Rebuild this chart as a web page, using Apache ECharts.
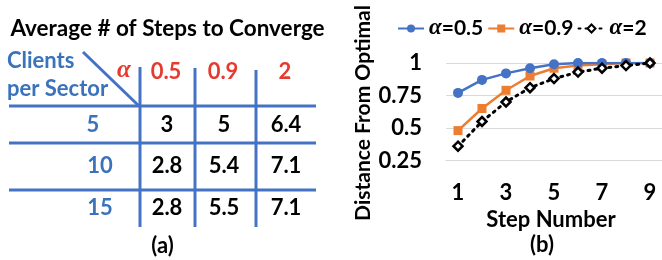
<!DOCTYPE html>
<html>
<head>
<meta charset="utf-8">
<script src="https://cdn.jsdelivr.net/npm/echarts@6/dist/echarts.min.js"></script>
<style>html,body{margin:0;padding:0;background:#fff}#c{width:662px;height:260px}</style>
</head>
<body>
<div id="c"></div>
<script>
// ---- data ----
const steps = ['1','2','3','4','5','6','7','8','9'];
const alpha05 = [0.77, 0.87, 0.92, 0.96, 0.99, 1.0, 1.0, 1.0, 1.0];
const alpha09 = [0.48, 0.65, 0.79, 0.90, 0.96, 0.98, 0.99, 1.0, 1.0];
const alpha2  = [0.36, 0.55, 0.70, 0.81, 0.88, 0.93, 0.96, 0.98, 1.0];
const seriesNames = ['α=0.5', 'α=0.9', 'α=2'];

const tableTitle = 'Average # of Steps to Converge';
const tableAlphas = ['0.5', '0.9', '2'];
const tableClients = ['5', '10', '15'];
const tableRow5  = ['3', '5', '6.4'];
const tableRow10 = ['2.8', '5.4', '7.1'];
const tableRow15 = ['2.8', '5.5', '7.1'];

// ---- layout / style ----
const FONT = 'Lato, "Open Sans", sans-serif';
const FS = 22;
const BLUE = '#4472C4';
const TBLUE = '#3A72BC';
const RED = '#E53A2F';
const bold = (size) => 'bold ' + size + 'px ' + FONT;

const colX = [167, 224, 286];
const rowY = [125, 166, 208];
const clientX = [93, 100, 100];
const tableRows = [tableRow5, tableRow10, tableRow15];

const graphics = [];
function txt(x, y, text, font, fill, align, extra) {
  graphics.push(Object.assign({
    type: 'text', x: x, y: y,
    style: { text: text, font: font, fill: fill, align: align || 'center', verticalAlign: 'middle' }
  }, extra || {}));
}
function ln(x1, y1, x2, y2) {
  graphics.push({ type: 'line', shape: { x1: x1, y1: y1, x2: x2, y2: y2 },
    style: { stroke: BLUE, lineWidth: 3 } });
}
// table
txt(167.5, 29, tableTitle, bold(22.5), '#000');
txt(7, 61, 'Clients', bold(FS), TBLUE, 'left');
txt(7, 89, 'per Sector', bold(FS), TBLUE, 'left');
txt(124, 71, 'α', 'italic bold 25px "Liberation Serif", "DejaVu Serif", serif', RED);
tableAlphas.forEach((a, i) => txt(colX[i] - 1, 72, a, bold(FS), RED));
tableClients.forEach((c, r) => txt(clientX[r], rowY[r], c, bold(FS), TBLUE));
tableRows.forEach((row, r) => row.forEach((v, i) => txt(colX[i], rowY[r], v, bold(FS), '#000')));
txt(162.5, 246, '(a)', bold(FS), '#000');
ln(9, 106, 316, 106);
ln(9, 143, 316, 143);
ln(9, 190, 316, 190);
ln(83, 52, 139, 106);
ln(140, 67, 140, 227);
ln(195, 68, 195, 227);
ln(256, 70, 256, 227);
// chart texts
txt(551, 220, 'Step Number', bold(FS), '#000');
txt(542, 245, '(b)', bold(FS), '#000');
txt(363, 113, 'Distance From Optimal', bold(21), '#000', 'center', { rotation: Math.PI / 2 });

const chart = echarts.init(document.getElementById('c'), null, { renderer: 'canvas' });
chart.setOption({
  animation: false,
  backgroundColor: '#fff',
  grid: { left: 446, right: -4, top: 63, bottom: 99.5, containLabel: false },
  legend: {
    left: 392, top: 12, width: 320, itemWidth: 26, itemHeight: 10, itemGap: 4,
    data: seriesNames,
    formatter: n => '{a|α}{b|' + n.slice(1) + '}',
    textStyle: {
      color: '#000', fontSize: 21, fontWeight: 'bold', fontFamily: FONT,
      rich: {
        a: { fontStyle: 'italic', fontWeight: 'bold', fontSize: 23, fontFamily: '"Liberation Serif", "DejaVu Serif", serif', color: '#000' },
        b: { fontWeight: 'bold', fontSize: 21, fontFamily: FONT, color: '#000' }
      }
    }
  },
  xAxis: {
    type: 'category', data: steps, boundaryGap: true,
    axisLine: { lineStyle: { color: '#D9D9D9', width: 1 } },
    axisTick: { show: false },
    axisLabel: { interval: 1, margin: 21, color: '#000', fontFamily: FONT, fontWeight: 'bold', fontSize: FS }
  },
  yAxis: {
    type: 'value', min: 0.25, max: 1, interval: 0.25,
    axisLine: { show: false }, axisTick: { show: false },
    splitLine: { lineStyle: { color: '#D9D9D9', width: 1 } },
    axisLabel: { margin: 24, color: '#000', fontFamily: FONT, fontWeight: 'bold', fontSize: FS }
  },
  series: [
    { name: seriesNames[0], type: 'line', data: alpha05, symbol: 'circle', symbolSize: 10,
      itemStyle: { color: BLUE }, lineStyle: { color: BLUE, width: 2.5 }, z: 4 },
    { name: seriesNames[1], type: 'line', data: alpha09, symbol: 'rect', symbolSize: 9,
      itemStyle: { color: '#ED7D31' }, lineStyle: { color: '#ED7D31', width: 2.5 }, z: 3 },
    { name: seriesNames[2], type: 'line', data: alpha2, symbol: 'diamond', symbolSize: 9,
      itemStyle: { color: '#fff', borderColor: '#000', borderWidth: 2.5 },
      lineStyle: { color: '#000', width: 3, type: [2, 5], cap: 'round' }, z: 5 }
  ],
  graphic: graphics
});
</script>
</body>
</html>
